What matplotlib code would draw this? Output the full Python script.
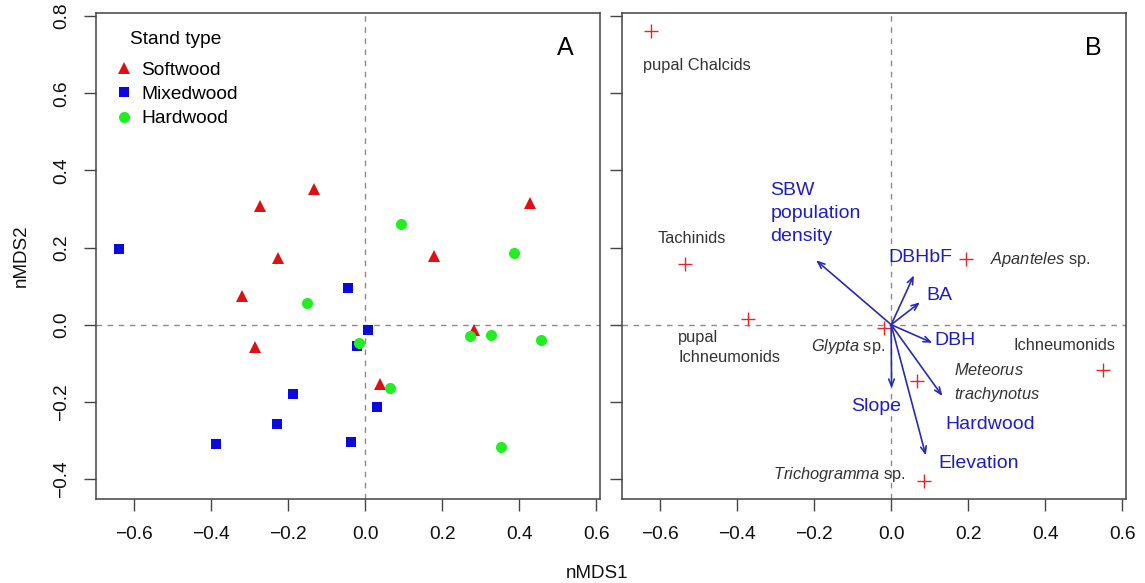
import matplotlib
matplotlib.use("Agg")
import matplotlib.pyplot as plt

plt.rcParams['font.family'] = ['Liberation Sans', 'DejaVu Sans']
plt.rcParams['mathtext.fontset'] = 'custom'
plt.rcParams['mathtext.it'] = 'Liberation Sans:italic'
plt.rcParams['mathtext.rm'] = 'Liberation Sans'

# stand scores (panel A)
soft_x = [-0.133, -0.272, -0.226, -0.320, 0.180, 0.427, -0.287, 0.282, 0.038]
soft_y = [0.351, 0.308, 0.172, 0.075, 0.178, 0.316, -0.058, -0.014, -0.155]
mixed_x = [-0.640, -0.045, 0.008, -0.020, -0.188, -0.228, -0.387, -0.036, 0.030]
mixed_y = [0.195, 0.094, -0.015, -0.055, -0.180, -0.257, -0.309, -0.305, -0.213]
hard_x = [0.093, 0.387, -0.150, -0.015, 0.272, 0.326, 0.456, 0.065, 0.352]
hard_y = [0.260, 0.187, 0.055, -0.048, -0.029, -0.028, -0.041, -0.163, -0.317]

# parasitoid scores (panel B)
sp_x = [-0.624, -0.535, 0.194, -0.371, -0.019, 0.067, 0.549, 0.085]
sp_y = [0.761, 0.158, 0.171, 0.014, -0.009, -0.145, -0.117, -0.405]
sp_labels = ["pupal Chalcids", "Tachinids", r"$\mathit{Apanteles}$ sp.",
             "pupal\nIchneumonids", r"$\mathit{Glypta}$ sp.",
             "$\\mathit{Meteorus}$\n$\\mathit{trachynotus}$", "Ichneumonids",
             r"$\mathit{Trichogramma}$ sp."]
sp_lab_x = [-0.505, -0.517, 0.386, -0.553, -0.113, 0.162, 0.449, -0.135]
sp_lab_y = [0.673, 0.224, 0.170, -0.060, -0.057, -0.151, -0.055, -0.389]
sp_lab_ha = ["center", "center", "center", "left", "center", "left", "center", "center"]

# environmental vectors
env_names = ["SBW\npopulation\ndensity", "DBHbF", "BA", "DBH", "Hardwood",
             "Slope", "Elevation"]
env_x = [-0.195, 0.059, 0.075, 0.107, 0.133, 0.001, 0.090]
env_y = [0.167, 0.128, 0.058, -0.047, -0.185, -0.165, -0.339]
env_lab_x = [-0.314, 0.075, 0.126, 0.166, 0.257, -0.040, 0.228]
env_lab_y = [0.289, 0.174, 0.075, -0.040, -0.260, -0.211, -0.359]
env_lab_ha = ["left", "center", "center", "center", "center", "center", "center"]

xticks = [-0.6, -0.4, -0.2, 0.0, 0.2, 0.4, 0.6]
yticks = [-0.4, -0.2, 0.0, 0.2, 0.4, 0.6, 0.8]

red = "#dd1111"
blue = "#0a0ae0"
green = "#22ee22"
vec_col = "#2a2ab4"
lab_col = "#1e1ec0"
sp_col = "#333333"
frame = "#444444"

fig = plt.figure(figsize=(11.45, 5.83), dpi=100)
axA = fig.add_axes([95.7 / 1145, 84 / 583, 504.3 / 1145, 486.3 / 583])
axB = fig.add_axes([621.7 / 1145, 84 / 583, 504.3 / 1145, 486.3 / 583])

for ax in (axA, axB):
    ax.set_xlim(-0.70, 0.61)
    ax.set_ylim(-0.452, 0.809)
    ax.axhline(0, color="#8a8a8a", ls=(0, (4, 4)), lw=1, zorder=0)
    ax.axvline(0, color="#8a8a8a", ls=(0, (4, 4)), lw=1, zorder=0)
    for s in ax.spines.values():
        s.set_color(frame)
        s.set_linewidth(1.1)
    ax.set_xticks(xticks)
    ax.set_xticklabels([f"{v:.1f}".replace("-", "\u2212") for v in xticks])
    ax.set_yticks(yticks)
    ax.tick_params(length=8.6, width=1, color=frame, labelsize=13.8,
                   labelcolor="#111111")
    ax.tick_params(axis="x", pad=11)
    ax.tick_params(axis="y", pad=10)

axA.set_yticklabels([f"{v:.1f}".replace("-", "\u2212") for v in yticks],
                    rotation=90, va="center")
axB.set_yticklabels([])

# panel A: stands
axA.plot(soft_x, soft_y, "^", color=red, ms=8.4, mew=0, label="Softwood")
axA.plot(mixed_x, mixed_y, "s", color=blue, ms=6.8, mew=0, label="Mixedwood")
axA.plot(hard_x, hard_y, "o", color=green, ms=8.0, mew=0, label="Hardwood")
axA.legend(loc="center left", frameon=False, fontsize=13.8, handletextpad=0.3,
           handlelength=1.2, labelspacing=0.36,
           bbox_to_anchor=(0.01, 0.832), borderaxespad=0.2)
axA.text((130.5 - 95.7) / 504.3, (499 - 40) / 486.3, "Stand type",
         transform=axA.transAxes, fontsize=13.8, ha="left", va="center")
axA.text(0.519, 0.718, "A", fontsize=18, ha="center", va="center")

# panel B: parasitoids and fitted vectors
axB.plot(sp_x, sp_y, "+", color="#e02828", ms=10, mew=1.0)
for lab, x, y, ha in zip(sp_labels, sp_lab_x, sp_lab_y, sp_lab_ha):
    axB.text(x, y, lab, fontsize=11.8, color=sp_col, ha=ha, va="center",
             linespacing=1.55 if "Meteorus" in lab else 1.4)
for x, y in zip(env_x, env_y):
    axB.annotate("", xy=(x, y), xytext=(0, 0),
                 arrowprops=dict(arrowstyle="->,head_length=0.5,head_width=0.2",
                                 color=vec_col, lw=1.2, shrinkA=0, shrinkB=0))
for lab, x, y, ha in zip(env_names, env_lab_x, env_lab_y, env_lab_ha):
    axB.text(x, y, lab, fontsize=14, color=lab_col, ha=ha, va="center",
             linespacing=1.45)
axB.text(0.525, 0.718, "B", fontsize=18, ha="center", va="center")

fig.text(21.7 / 1145, 1 - 256 / 583, "nMDS2", rotation=90, fontsize=13.5,
         ha="center", va="center", color="#111111")
fig.text(597.5 / 1145, 1 - 573 / 583, "nMDS1", fontsize=13.5,
         ha="center", va="center", color="#111111")

fig.savefig("out.png", dpi=100)
